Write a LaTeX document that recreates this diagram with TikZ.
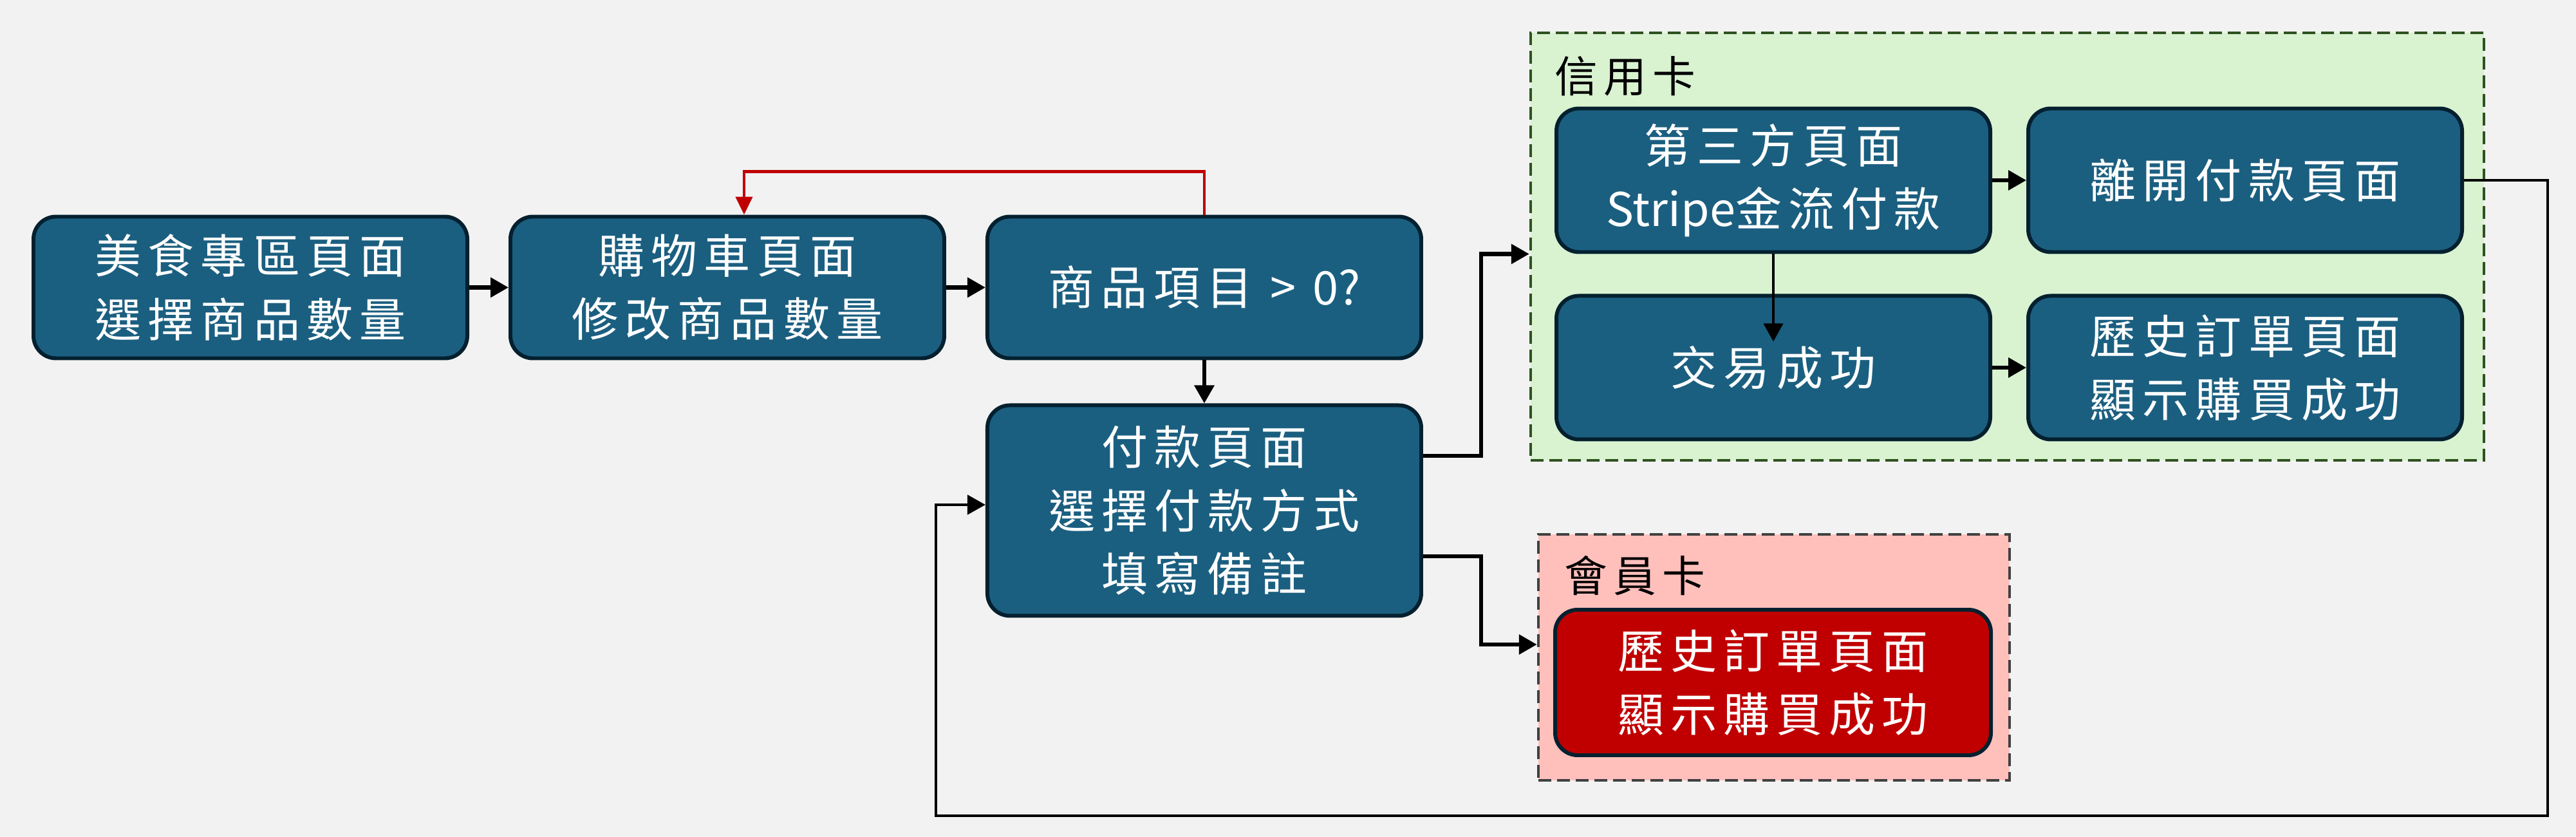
\documentclass[tikz,border=0pt]{standalone}
\usepackage{fontspec}
\setmainfont{Noto Sans CJK TC}[LetterSpace=14]
\newfontfamily\latinfont{Noto Sans CJK TC}
\usetikzlibrary{arrows.meta, positioning}

\definecolor{bg}{HTML}{F2F2F2}
\definecolor{boxfill}{HTML}{1B5F80}
\definecolor{boxline}{HTML}{04202F}
\definecolor{alertfill}{HTML}{C00000}
\definecolor{creditfill}{HTML}{D9F2D0}
\definecolor{creditline}{HTML}{2F5220}
\definecolor{memberfill}{HTML}{FFC0BC}
\definecolor{memberline}{HTML}{404040}

\begin{document}
\begin{tikzpicture}[
        node distance=0.61cm,
        inner sep=0pt,
        box/.style={draw=boxline, fill=boxfill, line width=1.7pt, rounded corners=0.35cm,
            minimum width=6.74cm, minimum height=2.2cm, align=center, text=white,
            font=\fontsize{20.5}{28}\selectfont},
        alt-box/.style={box, fill=alertfill},
        group/.style={draw, line width=1.3pt, dash pattern=on 0.2cm off 0.09cm},
        grouplabel/.style={anchor=west, font=\fontsize{19}{24}\selectfont},
        post/.style={-{Triangle[length=0.28cm, width=0.3cm]}, line width=1.8pt},
        thin-post/.style={post, line width=1.1pt},
        back-post/.style={-{Triangle[length=0.28cm, width=0.26cm]}, line width=1.3pt, draw=alertfill},
    ]
        \path[use as bounding box, fill=bg] (0,0) rectangle (40.02,-13);

        % payment groups
        \node[group, draw=creditline, fill=creditfill, minimum width=14.81cm, minimum height=6.64cm]
            (credit) at (31.185,-3.83) {};
        \node[grouplabel] (creditlabel) at (24.15,-1.18) {信用卡};
        \node[group, draw=memberline, fill=memberfill, minimum width=7.32cm, minimum height=3.82cm]
            (member) at (27.56,-10.21) {};
        \node[grouplabel] (memberlabel) at (24.3,-8.94) {會員卡};

        % main flow
        \node[box] (menu) at (3.89,-4.465) {美食專區頁面\\選擇商品數量};
        \node[box, right=of menu] (cart) {購物車頁面\\修改商品數量};
        \draw[post] (menu) -- (cart);
        \node[box, right=of cart] (check) {商品項目 > {\latinfont 0?}};
        \draw[post] (cart) -- (check);
        \draw[back-post] (check.north) -- ++(0,0.67) -| ([xshift=0.26cm]cart.north);
        \node[box, below=0.67cm of check, minimum height=3.27cm] (pay) {付款頁面\\選擇付款方式\\填寫備註};
        \draw[post] (check) -- (pay);

        % credit card
        \node[box, minimum height=2.23cm] (stripe) at (27.55,-2.80) {第三方頁面\\{\latinfont Stripe}金流付款};
        \node[box, minimum height=2.23cm, right=0.53cm of stripe] (leave) {離開付款頁面};
        \node[box, minimum height=2.23cm, below=0.62cm of stripe] (done) {交易成功};
        \node[box, minimum height=2.23cm, right=0.53cm of done] (history) {歷史訂單頁面\\顯示購買成功};
        \draw[post] (stripe) -- (leave);
        \draw[thin-post] (stripe.south) -- ([yshift=-0.74cm]done.north);
        \draw[post] (done) -- (history);

        % member card
        \node[alt-box, minimum width=6.77cm, minimum height=2.26cm] (memberdone) at (27.545,-10.60)
            {歷史訂單頁面\\顯示購買成功};

        \draw[post] ([yshift=0.85cm]pay.east) -- ++(0.9,0) |- (credit.west |- stripe.south);
        \draw[post] ([yshift=-0.71cm]pay.east) -- ++(0.9,0) |- ([yshift=0.2cm]member.west);
        \draw[post, line width=1.4pt] (leave.east) -- ++(1.3,0) |- ([shift={(-0.77,-4.74)}]pay.west)
            |- ([yshift=0.09cm]pay.west);
    \end{tikzpicture}
\end{document}
